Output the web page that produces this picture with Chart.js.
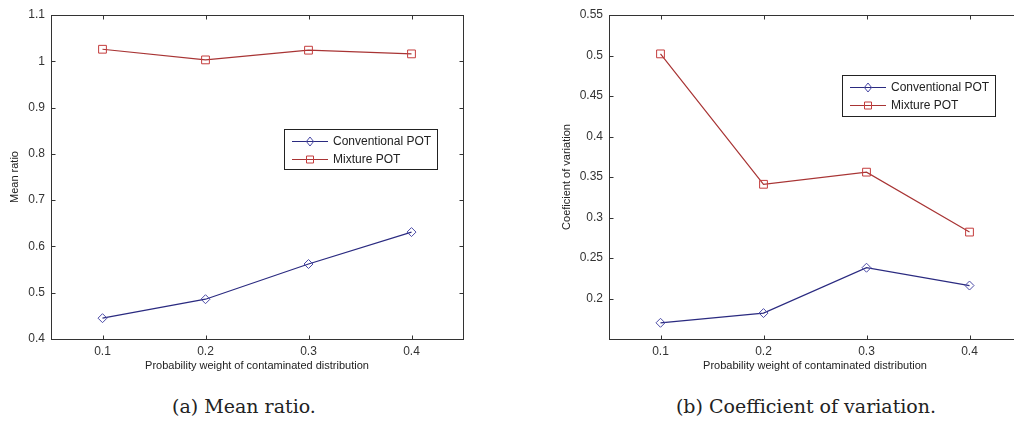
<!DOCTYPE html>
<html>
<head>
<meta charset="utf-8">
<script src="https://cdn.jsdelivr.net/npm/chart.js@4"></script>
<style>
  html, body { margin: 0; padding: 0; background: #fff; overflow: hidden; width: 1014px; height: 423px; }
  .box { position: absolute; }
  .cap { position: absolute; font-family: "DejaVu Serif", serif; font-size: 19px; color: #222; transform: translateX(-50%); white-space: nowrap; }
</style>
</head>
<body>
<div class="box" style="left:0;top:0;width:480px;height:373px"><canvas id="meanratio"></canvas></div>
<div class="box" style="left:540px;top:0;width:498px;height:373px"><canvas id="coefvar"></canvas></div>
<div class="cap" style="left:244px;top:395px">(a) Mean ratio.</div>
<div class="cap" style="left:806px;top:395px">(b) Coefficient of variation.</div>
<script>
// data
const weights = [0.1, 0.2, 0.3, 0.4];
const seriesNames = ["Conventional POT", "Mixture POT"];

const meanConventional = [0.445, 0.486, 0.562, 0.631];
const meanMixture = [1.026, 1.003, 1.024, 1.016];

const cvConventional = [0.170, 0.182, 0.238, 0.216];
const cvMixture = [0.502, 0.341, 0.356, 0.282];

const xTicks = [0.1, 0.2, 0.3, 0.4];
const meanTicks = [0.4, 0.5, 0.6, 0.7, 0.8, 0.9, 1.0, 1.1];
const cvTicks = [0.2, 0.25, 0.3, 0.35, 0.4, 0.45, 0.5, 0.55];

const BLUE_LINE = "#2a2a80";
const BLUE_MARK = "#4a4aa6";
const RED_LINE = "#a83434";
const RED_MARK = "#c43c3c";
const AXIS = "#333";

function pts(vals) {
  return weights.map((w, i) => ({ x: w, y: vals[i] }));
}

// matlab-ish box with inward ticks
const matlabFrame = {
  id: "matlabFrame",
  afterDatasetsDraw(chart) {
    const { ctx, chartArea: a, scales: { x, y } } = chart;
    ctx.save();
    ctx.strokeStyle = AXIS;
    ctx.lineWidth = 1;
    const L = Math.round(a.left) + 0.5, R = Math.round(a.right) + 0.5;
    const T = Math.round(a.top) + 0.5, B = Math.round(a.bottom) + 0.5;
    ctx.strokeRect(L, T, R - L, B - T);
    ctx.beginPath();
    x.ticks.forEach(t => {
      const px = Math.round(x.getPixelForValue(t.value)) + 0.5;
      ctx.moveTo(px, B); ctx.lineTo(px, B - 4);
      ctx.moveTo(px, T); ctx.lineTo(px, T + 4);
    });
    y.ticks.forEach(t => {
      const py = Math.round(y.getPixelForValue(t.value)) + 0.5;
      ctx.moveTo(L, py); ctx.lineTo(L + 4, py);
      ctx.moveTo(R, py); ctx.lineTo(R - 4, py);
    });
    ctx.stroke();
    ctx.restore();
  }
};

function drawMarker(ctx, style, cx, cy, r) {
  ctx.beginPath();
  if (style === "rectRot") {
    ctx.moveTo(cx, cy - r); ctx.lineTo(cx + r * 0.8, cy);
    ctx.lineTo(cx, cy + r); ctx.lineTo(cx - r * 0.8, cy);
    ctx.closePath();
  } else {
    ctx.rect(cx - r, cy - r, 2 * r, 2 * r);
  }
  ctx.stroke();
}

// boxed legend like the original figure
const boxLegend = {
  id: "boxLegend",
  afterDraw(chart, args, opts) {
    const { ctx } = chart;
    const { x, y, w, h } = opts;
    ctx.save();
    ctx.fillStyle = "#fff";
    ctx.fillRect(x, y, w, h);
    ctx.strokeStyle = "#222";
    ctx.lineWidth = 1;
    ctx.strokeRect(x + 0.5, y + 0.5, w, h);
    ctx.font = "12px 'Liberation Sans', Arial, sans-serif";
    ctx.textBaseline = "middle";
    chart.data.datasets.forEach((ds, i) => {
      const cy = y + 12.5 + i * 18;
      ctx.strokeStyle = ds.borderColor;
      ctx.beginPath();
      ctx.moveTo(x + 8, cy); ctx.lineTo(x + 44, cy);
      ctx.stroke();
      ctx.strokeStyle = ds.pointBorderColor;
      drawMarker(ctx, ds.pointStyle, x + 26, cy, ds.pointStyle === "rect" ? 3.5 : 4.5);
      ctx.fillStyle = "#222";
      ctx.fillText(ds.label, x + 49, cy + 0.5);
    });
    ctx.restore();
  }
};

function makeChart(id, conv, mix, yMin, yMax, yTicks, yTitle, yWidth, titlePad, legendBox) {
  const tickFont = { family: "'Liberation Sans', Arial, sans-serif", size: 12 };
  const titleFont = { family: "'Liberation Sans', Arial, sans-serif", size: 11 };
  return new Chart(document.getElementById(id).getContext("2d"), {
    type: "line",
    data: {
      datasets: [
        {
          label: seriesNames[0],
          data: pts(conv),
          borderColor: BLUE_LINE,
          borderWidth: 1.2,
          pointStyle: "rectRot",
          pointRadius: 4.5,
          pointBorderColor: BLUE_MARK,
          pointBackgroundColor: "rgba(255,255,255,0)",
          pointBorderWidth: 1,
          tension: 0,
        },
        {
          label: seriesNames[1],
          data: pts(mix),
          borderColor: RED_LINE,
          borderWidth: 1.2,
          pointStyle: "rect",
          pointRadius: 5.5,
          pointBorderColor: RED_MARK,
          pointBackgroundColor: "rgba(255,255,255,0)",
          pointBorderWidth: 1,
          tension: 0,
        },
      ],
    },
    options: {
      responsive: true,
      maintainAspectRatio: false,
      animation: false,
      layout: { padding: { top: 15, right: 17, left: 0, bottom: 0 } },
      plugins: {
        legend: { display: false },
        tooltip: { enabled: false },
        boxLegend: legendBox,
      },
      scales: {
        x: {
          type: "linear",
          min: 0.05,
          max: 0.45,
          afterBuildTicks: s => { s.ticks = xTicks.map(v => ({ value: v })); },
          afterFit: s => { s.height = 34; },
          grid: { display: false, drawTicks: false },
          border: { display: false },
          ticks: { color: AXIS, font: tickFont, padding: 5, callback: v => String(+v.toFixed(2)) },
          title: {
            display: true,
            text: "Probability weight of contaminated distribution",
            color: "#222",
            font: titleFont,
            padding: { top: 0, bottom: 0 },
          },
        },
        y: {
          type: "linear",
          min: yMin,
          max: yMax,
          afterBuildTicks: s => { s.ticks = yTicks.map(v => ({ value: v })); },
          afterFit: s => { s.width = yWidth; },
          grid: { display: false, drawTicks: false },
          border: { display: false },
          ticks: { color: AXIS, font: tickFont, padding: 6, callback: v => String(+v.toFixed(2)) },
          title: {
            display: true,
            text: yTitle,
            color: "#222",
            font: titleFont,
            padding: { top: titlePad, bottom: 0 },
          },
        },
      },
    },
    plugins: [matlabFrame, boxLegend],
  });
}

makeChart("meanratio", meanConventional, meanMixture, 0.4, 1.1, meanTicks,
  "Mean ratio", 51, 8, { x: 284, y: 129, w: 153, h: 40 });

makeChart("coefvar", cvConventional, cvMixture, 0.15, 0.55, cvTicks,
  "Coeficient of variation", 69, 20, { x: 302, y: 75, w: 153, h: 41 });
</script>
</body>
</html>
